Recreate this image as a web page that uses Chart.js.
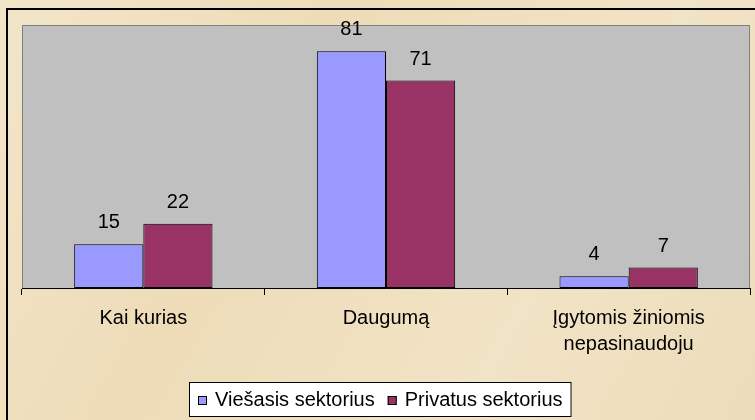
<!DOCTYPE html>
<html lang="lt">
<head>
    <meta charset="UTF-8">
    <title>Sektoriai</title>
    <script src="https://cdn.jsdelivr.net/npm/chart.js"></script>
    <style>
        body { margin: 0; background: #f0e2c4; }
        canvas { display: block; }
    </style>
</head>
<body>
    <canvas id="sectorChart" width="755" height="420"></canvas>

    <script>
        // chart data
        const categories = ['Kai kurias', 'Daugumą', ['Įgytomis žiniomis', 'nepasinaudoju']];
        const seriesNames = ['Viešasis sektorius', 'Privatus sektorius'];
        const publicSector = [15, 81, 4];
        const privateSector = [22, 71, 7];
        const yMax = 90;

        const FONT = 'Arial, "Liberation Sans", sans-serif';

        // parchment background, outer frame and grey plot area
        const backdrop = {
            id: 'backdrop',
            beforeDraw(chart) {
                const ctx = chart.ctx;
                const w = chart.width, h = chart.height;
                ctx.save();
                const g = ctx.createLinearGradient(0, 0, w, h);
                g.addColorStop(0, '#f2e5c8');
                g.addColorStop(0.35, '#eedcb8');
                g.addColorStop(0.7, '#f1e3c5');
                g.addColorStop(1, '#ecdcba');
                ctx.fillStyle = g;
                ctx.fillRect(0, 0, w, h);

                ctx.strokeStyle = '#000';
                ctx.lineWidth = 2;
                ctx.strokeRect(7, 9, w + 20, h + 20);

                const a = chart.chartArea;
                ctx.fillStyle = '#c0c0c0';
                ctx.fillRect(a.left, a.top, a.right - a.left, a.bottom - a.top);
                ctx.strokeStyle = '#808080';
                ctx.lineWidth = 1;
                ctx.strokeRect(a.left + 0.5, a.top + 0.5, a.right - a.left - 1, a.bottom - a.top);
                ctx.restore();
            }
        };

        // value labels above each bar
        const valueLabels = {
            id: 'valueLabels',
            afterDatasetsDraw(chart) {
                const ctx = chart.ctx;
                ctx.save();
                ctx.font = '20px ' + FONT;
                ctx.fillStyle = '#000';
                ctx.textAlign = 'center';
                ctx.textBaseline = 'alphabetic';
                chart.data.datasets.forEach((ds, i) => {
                    chart.getDatasetMeta(i).data.forEach((bar, j) => {
                        ctx.fillText(ds.data[j], bar.x, bar.y - 16);
                    });
                });
                ctx.restore();
            }
        };

        // boxed legend at the bottom
        const boxLegend = {
            id: 'boxLegend',
            afterDraw(chart) {
                const ctx = chart.ctx;
                ctx.save();
                ctx.font = '20px ' + FONT;
                const sq = 9, gap = 8, spacing = 13, padX = 9;
                const items = chart.data.datasets.map(ds => ({
                    label: ds.label, color: ds.backgroundColor,
                    w: sq + gap + ctx.measureText(ds.label).width
                }));
                const total = items.reduce((s, it) => s + it.w, 0) + spacing * (items.length - 1) + padX * 2;
                const left = Math.round((chart.width - total) / 2) + 3;
                const top = 382, boxH = 35;
                ctx.fillStyle = '#fff';
                ctx.fillRect(left, top, total, boxH);
                ctx.strokeStyle = '#000';
                ctx.lineWidth = 1;
                ctx.strokeRect(left + 0.5, top + 0.5, total - 1, boxH - 1);

                let x = left + padX;
                const cy = top + boxH / 2;
                items.forEach(it => {
                    ctx.fillStyle = it.color;
                    ctx.fillRect(x, cy - sq / 2 + 1, sq, sq);
                    ctx.strokeStyle = '#000';
                    ctx.strokeRect(x + 0.5, cy - sq / 2 + 1.5, sq - 1, sq - 1);
                    ctx.fillStyle = '#000';
                    ctx.textBaseline = 'middle';
                    ctx.fillText(it.label, x + sq + gap, cy + 1);
                    x += it.w + spacing;
                });
                ctx.restore();
            }
        };

        const ctx = document.getElementById('sectorChart').getContext('2d');
        new Chart(ctx, {
            type: 'bar',
            data: {
                labels: categories,
                datasets: [{
                    label: seriesNames[0],
                    data: publicSector,
                    backgroundColor: '#9999ff',
                    borderColor: '#000',
                    borderWidth: 1,
                    borderSkipped: false
                }, {
                    label: seriesNames[1],
                    data: privateSector,
                    backgroundColor: '#993366',
                    borderColor: '#000',
                    borderWidth: 1,
                    borderSkipped: false
                }]
            },
            options: {
                responsive: false,
                animation: false,
                devicePixelRatio: 1,
                categoryPercentage: 0.57,
                barPercentage: 1.0,
                layout: { padding: { left: 22, right: 5, top: 25, bottom: 0 } },
                plugins: {
                    legend: { display: false },
                    tooltip: { enabled: false }
                },
                scales: {
                    x: {
                        grid: {
                            display: true,
                            drawOnChartArea: false,
                            drawTicks: true,
                            tickLength: 7,
                            color: '#000'
                        },
                        border: { display: true, color: '#000', width: 1 },
                        ticks: {
                            color: '#000',
                            padding: 11,
                            maxRotation: 0,
                            font: { family: FONT, size: 20, lineHeight: 1.28 }
                        },
                        afterFit(scale) { scale.height = 132; }
                    },
                    y: {
                        display: false,
                        min: 0,
                        max: yMax
                    }
                }
            },
            plugins: [backdrop, valueLabels, boxLegend]
        });
    </script>
</body>
</html>
